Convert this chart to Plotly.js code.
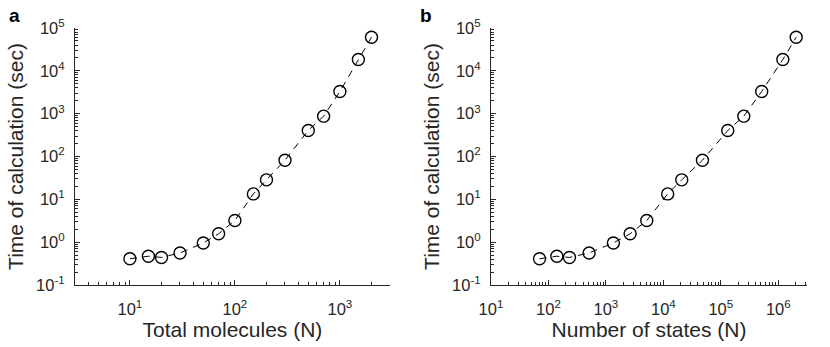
<!DOCTYPE html>
<html>
<head>
<meta charset="utf-8">
<script src="https://cdn.plot.ly/plotly-3.0.1.min.js"></script>
<style>
  html, body { margin: 0; padding: 0; background: #fff; }
  #chart { width: 830px; height: 347px; }
</style>
</head>
<body>
<div id="chart"></div>
<script>
// times, same for both panels
var timeSec = [0.41, 0.47, 0.44, 0.56, 0.96, 1.57, 3.2, 13.4, 28.5, 82, 405, 875, 3290, 18400, 61000];
var totalMolecules = [10, 15, 20, 30, 50, 70, 100, 150, 200, 300, 500, 700, 1000, 1500, 2000];
var numStates = [70, 140, 232, 510, 1350, 2640, 5140, 11900, 20900, 47900, 132000, 251000, 515000, 1200000, 2050000];

var yTickVals = [0.1, 1, 10, 100, 1000, 10000, 100000];
var yTickText = ['10<sup>-1</sup>', '10<sup>0</sup>', '10<sup>1</sup>', '10<sup>2</sup>', '10<sup>3</sup>', '10<sup>4</sup>', '10<sup>5</sup>'];
var xaTickVals = [10, 100, 1000];
var xaTickText = ['10<sup>1</sup>', '10<sup>2</sup>', '10<sup>3</sup>'];
var xbTickVals = [10, 100, 1000, 10000, 100000, 1000000];
var xbTickText = ['10<sup>1</sup>', '10<sup>2</sup>', '10<sup>3</sup>', '10<sup>4</sup>', '10<sup>5</sup>', '10<sup>6</sup>'];

var ink = '#262626';
var font = 'Liberation Sans, Arial, sans-serif';

// 2..9 times each power of ten, for the small log ticks
function minorTicks(lo, hi) {
    var out = [];
    for (var e = lo; e <= hi; e++) {
        for (var k = 2; k <= 9; k++) out.push(k * Math.pow(10, e));
    }
    return out;
}

function series(x, xa, ya) {
    return {
        x: x, y: timeSec, xaxis: xa, yaxis: ya,
        type: 'scatter', mode: 'lines+markers',
        line: {color: '#000', width: 1, dash: '7px,6px'},
        marker: {symbol: 'circle-open', size: 12, color: '#000', line: {width: 1.4}},
        hoverinfo: 'skip', showlegend: false
    };
}

function logAxis(range, vals, text, minorVals, domain, anchor, title, standoff, labelGap) {
    return {
        type: 'log', range: range, domain: domain, anchor: anchor,
        tickmode: 'array', tickvals: vals, ticktext: text,
        ticks: 'inside', ticklen: 5, tickwidth: 1, tickcolor: ink,
        minor: {tickmode: 'array', tickvals: minorVals, ticks: 'inside', ticklen: 3, tickwidth: 1, tickcolor: ink, showgrid: false},
        showline: true, linecolor: ink, linewidth: 1,
        showgrid: false, zeroline: false, mirror: false,
        tickfont: {family: font, size: 16.5, color: ink},
        title: {text: title, font: {family: font, size: 21, color: ink}, standoff: standoff},
        ticklabelstandoff: labelGap
    };
}

var layout = {
    width: 830, height: 347,
    margin: {l: 75, r: 23, t: 28, b: 62},
    paper_bgcolor: '#fff', plot_bgcolor: 'rgba(0,0,0,0)',
    xaxis: logAxis([Math.log10(3), Math.log10(3000)], xaTickVals, xaTickText, minorTicks(0, 3), [0, 0.4303], 'y', 'Total molecules (N)', 5, 9),
    yaxis: logAxis([-1, 5], yTickVals, yTickText, minorTicks(-1, 4), [0, 1], 'x', 'Time of calculation (sec)', 6, 6),
    xaxis2: logAxis([1, 6.5], xbTickVals, xbTickText, minorTicks(1, 6), [0.5683, 1], 'y2', 'Number of states (N)', 5, 9),
    yaxis2: logAxis([-1, 5], yTickVals, yTickText, minorTicks(-1, 4), [0, 1], 'x2', 'Time of calculation (sec)', 6, 6),
    annotations: [
        {text: '<b>a</b>', xref: 'paper', yref: 'paper', x: -0.082, y: 1.05, xanchor: 'center', yanchor: 'middle',
         showarrow: false, font: {family: font, size: 19, color: '#000'}},
        {text: '<b>b</b>', xref: 'paper', yref: 'paper', x: 0.4795, y: 1.05, xanchor: 'center', yanchor: 'middle',
         showarrow: false, font: {family: font, size: 19, color: '#000'}}
    ]
};

Plotly.newPlot('chart', [series(totalMolecules, 'x', 'y'), series(numStates, 'x2', 'y2')], layout, {displayModeBar: false, staticPlot: true});
</script>
</body>
</html>
